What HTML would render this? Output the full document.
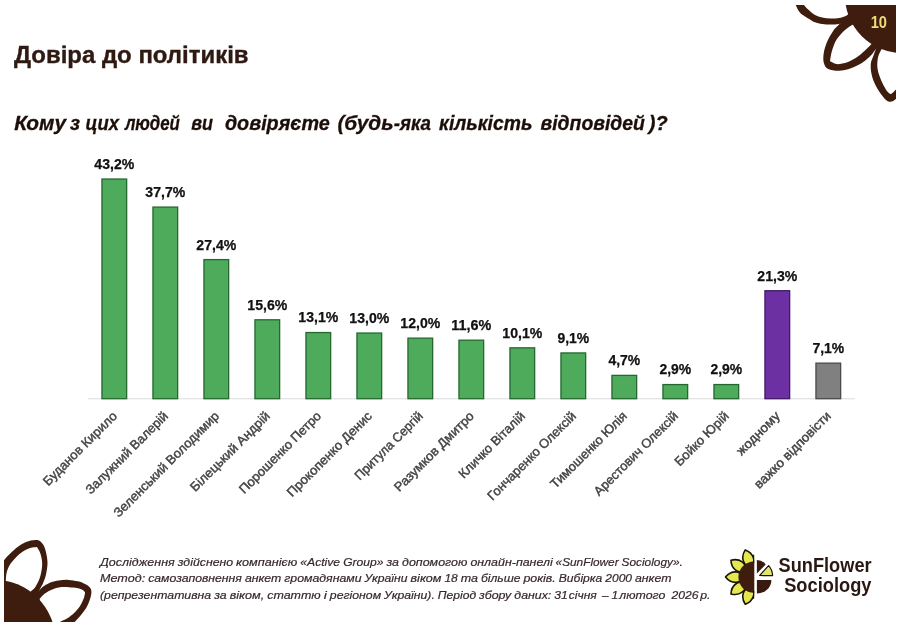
<!DOCTYPE html>
<html lang="uk"><head><meta charset="utf-8"><title>Довіра до політиків</title>
<style>html,body{margin:0;padding:0;background:#fff}body{width:900px;height:626px;overflow:hidden}svg{display:block}text{font-family:"Liberation Sans",sans-serif}</style></head><body>
<svg width="900" height="626" viewBox="0 0 900 626">
<rect width="900" height="626" fill="#ffffff"/>
<defs><clipPath id="slide"><rect x="4" y="5" width="892" height="617"/></clipPath></defs>
<g clip-path="url(#slide)" stroke="none">
<path d="M-4.0,569.0 C-2.7,567.6 1.2,563.2 3.8,560.4 C6.4,557.6 8.6,554.9 11.5,552.3 C14.4,549.7 17.9,546.5 21.1,544.6 C24.3,542.7 27.8,541.3 30.7,540.6 C33.6,539.9 36.3,539.6 38.4,540.3 C40.5,541.0 41.8,542.6 43.1,544.6 C44.4,546.6 45.3,549.3 46.0,552.3 C46.7,555.3 47.5,559.1 47.5,562.8 C47.5,566.5 46.7,571.0 46.0,574.4 C45.3,577.8 43.9,580.9 43.1,583.0 C42.3,585.1 42.4,584.5 41.2,586.8 C40.0,589.1 36.9,595.3 36.0,597.0 L-4.0,600.0 Z" fill="#3f1d0e"/>
<path d="M37.0,593.0 C37.6,592.3 39.3,590.2 40.5,589.0 C41.7,587.8 42.6,586.8 44.4,585.7 C46.2,584.6 48.7,583.2 51.1,582.3 C53.5,581.4 55.9,580.8 58.8,580.4 C61.7,580.0 65.2,579.8 68.4,579.9 C71.6,580.0 75.0,580.6 77.9,581.3 C80.8,582.0 83.6,583.2 85.6,584.2 C87.6,585.2 88.9,586.3 89.9,587.6 C90.9,588.9 91.4,589.9 91.4,591.9 C91.4,593.9 90.7,597.0 89.9,599.6 C89.1,602.2 87.9,604.8 86.6,607.2 C85.2,609.6 83.7,611.5 81.8,613.9 C79.9,616.3 76.7,619.7 75.1,621.6 C73.5,623.5 72.7,624.8 72.2,625.4 L50.0,630.0 L28.0,602.0 Z" fill="#3f1d0e"/>
<path d="M794.0,0.0 C794.4,1.0 795.1,3.9 796.2,6.1 C797.3,8.3 798.0,10.8 800.5,13.2 C803.0,15.5 808.7,18.7 811.1,20.2 C813.5,21.7 813.1,21.6 815.0,22.2 C816.9,22.8 819.6,23.6 822.2,24.0 C824.8,24.4 827.8,24.6 830.6,24.6 C833.4,24.6 836.4,24.6 839.0,24.0 C841.6,23.4 843.8,22.2 846.0,21.0 C848.2,19.8 851.0,17.7 852.0,17.0 L852.0,11.0 C851.3,11.6 849.2,13.5 848.0,14.4 C846.8,15.3 846.5,15.6 845.0,16.2 C843.5,16.8 841.4,17.6 839.0,18.0 C836.6,18.4 833.4,18.7 830.6,18.6 C827.8,18.5 824.8,18.0 822.2,17.4 C819.6,16.8 817.1,16.1 815.0,15.0 C812.9,13.8 811.1,12.1 809.3,10.5 C807.5,8.9 805.4,7.0 804.1,5.3 C802.8,3.5 801.9,0.9 801.5,0.0 Z" fill="#3f1d0e"/>
<path d="M850.0,16.0 C849.1,16.7 846.3,18.6 844.5,20.0 C842.7,21.4 840.9,22.7 839.0,24.6 C837.1,26.5 835.0,28.3 833.0,31.2 C831.0,34.1 828.6,38.2 827.0,42.0 C825.4,45.8 824.1,50.3 823.6,53.9 C823.1,57.5 823.2,61.0 824.0,63.5 C824.8,66.0 825.7,67.7 828.2,68.9 C830.7,70.1 835.2,70.8 839.0,70.7 C842.8,70.6 847.0,69.7 851.0,68.3 C855.0,66.9 859.5,64.5 862.9,62.3 C866.3,60.1 869.3,57.1 871.3,55.1 C873.3,53.1 873.4,52.1 874.9,50.3 C876.4,48.4 879.1,45.0 880.0,44.0 L870.0,30.0 L852.0,15.0 Z" fill="#3f1d0e"/>
<path d="M880.0,40.0 C879.2,41.7 876.6,47.3 875.5,50.0 C874.4,52.7 874.1,53.9 873.4,56.0 C872.6,58.1 871.4,60.1 871.0,62.6 C870.6,65.1 870.6,68.0 871.0,71.0 C871.4,74.0 872.3,77.6 873.4,80.6 C874.5,83.6 875.9,86.2 877.6,89.0 C879.3,91.8 881.8,95.3 883.6,97.4 C885.4,99.5 886.8,100.9 888.4,101.5 C890.0,102.1 892.0,101.3 893.2,100.9 C894.5,100.5 894.8,99.9 895.9,99.1 C897.0,98.3 899.3,96.5 900.0,96.0 L900.0,40.0 Z" fill="#3f1d0e"/>
<path d="M5.8,580.6 C6.0,579.2 5.9,575.2 6.7,572.4 C7.5,569.6 8.4,566.8 10.5,563.8 C12.6,560.8 16.1,556.8 19.2,554.2 C22.2,551.7 25.9,549.7 28.8,548.5 C31.8,547.3 35.5,547.2 36.9,547.0 L36.9,547.0 C37.5,548.0 39.4,550.5 40.3,553.3 C41.2,556.1 42.2,560.0 42.2,563.8 C42.2,567.6 41.4,572.5 40.3,576.3 C39.2,580.1 37.1,584.2 35.5,586.8 C33.9,589.3 31.5,590.8 30.7,591.6 L28.0,598.0 L5.0,590.0 Z" fill="#ffffff"/>
<path d="M39.6,599.1 C40.2,598.4 41.5,596.3 43.4,594.8 C45.3,593.3 48.1,591.3 51.1,590.0 C54.1,588.7 57.9,587.5 61.6,587.1 C65.3,586.7 69.7,587.2 73.1,587.6 C76.5,588.0 79.8,588.7 81.8,589.5 C83.8,590.3 84.5,591.9 85.1,592.4 L85.1,592.4 C84.9,593.4 84.6,596.3 83.7,598.6 C82.8,600.9 81.5,603.9 79.9,606.3 C78.3,608.7 76.2,611.0 74.1,613.0 C72.0,615.0 69.6,616.9 67.4,618.3 C65.2,619.7 62.6,620.6 60.7,621.6 C58.8,622.6 56.7,624.0 55.9,624.5 L50.0,628.0 L42.0,610.0 Z" fill="#ffffff"/>
<path d="M853.1,24.6 C851.8,25.5 847.8,27.5 845.0,30.0 C842.2,32.5 838.8,36.0 836.6,39.6 C834.4,43.2 832.9,47.9 831.8,51.5 C830.7,55.1 830.3,59.5 830.0,61.1 L830.0,61.1 C831.1,61.6 833.7,63.9 836.6,64.1 C839.5,64.3 843.8,63.6 847.4,62.3 C851.0,61.0 855.0,58.5 858.2,56.3 C861.4,54.1 864.3,51.1 866.5,49.1 C868.7,47.1 870.5,45.1 871.3,44.3 L875.0,38.0 L860.0,25.0 Z" fill="#ffffff"/>
<path d="M881.8,48.8 C881.2,50.1 879.0,53.7 878.2,56.6 C877.5,59.5 877.1,63.0 877.3,66.2 C877.5,69.4 878.3,72.6 879.4,75.8 C880.5,79.0 882.1,82.6 883.6,85.4 C885.1,88.2 887.1,91.2 888.4,92.6 C889.7,94.0 890.1,94.3 891.4,93.8 C892.6,93.3 894.5,91.1 895.9,89.6 C897.3,88.1 899.3,85.8 900.0,85.0 L900.0,45.0 Z" fill="#ffffff"/>
<circle cx="902.7" cy="-4.7" r="57.8" fill="#3f1d0e"/>
<circle cx="-6.1" cy="641.3" r="61.7" fill="#3f1d0e"/>
</g>
<text x="870.7" y="28.3" font-size="16" font-weight="bold" fill="#f2dc7a" textLength="16.3" lengthAdjust="spacingAndGlyphs">10</text>
<text x="14" y="63" font-size="23" font-weight="bold" fill="#2e1a12" stroke="#2e1a12" stroke-width="0.35" textLength="234.5" lengthAdjust="spacingAndGlyphs">Довіра до політиків</text>
<g font-size="19.5" font-weight="bold" font-style="italic" fill="#1c0e08" stroke="#1c0e08" stroke-width="0.3">
<text y="129.6"><tspan x="14.3" textLength="51.7" lengthAdjust="spacingAndGlyphs">Кому</tspan> <tspan x="69.9" textLength="10.0" lengthAdjust="spacingAndGlyphs">з</tspan> <tspan x="85.6" textLength="33.4" lengthAdjust="spacingAndGlyphs">цих</tspan> <tspan x="124.9" textLength="54.9" lengthAdjust="spacingAndGlyphs">людей</tspan> <tspan x="191.2" textLength="21.8" lengthAdjust="spacingAndGlyphs">ви</tspan> <tspan x="224.9" textLength="104.9" lengthAdjust="spacingAndGlyphs">довіряєте</tspan> <tspan x="337.4" textLength="56.1" lengthAdjust="spacingAndGlyphs">(будь</tspan><tspan x="393.7" textLength="37.3" lengthAdjust="spacingAndGlyphs">-яка</tspan> <tspan x="439.1" textLength="93.3" lengthAdjust="spacingAndGlyphs">кількість</tspan> <tspan x="540.5" textLength="104.4" lengthAdjust="spacingAndGlyphs">відповідей</tspan><tspan x="648.8" textLength="18.9" lengthAdjust="spacingAndGlyphs">)?</tspan></text>
</g>
<line x1="88" y1="398.8" x2="855" y2="398.8" stroke="#dcdcdc" stroke-width="1.1"/>
<rect x="101.95" y="179.03" width="24.7" height="219.67" fill="#4dab5b" stroke="#24682f" stroke-width="1.3"/>
<text x="114.3" y="168.9" font-size="13.8" font-weight="bold" fill="#111111" stroke="#111111" stroke-width="0.25" text-anchor="middle" textLength="39.9" lengthAdjust="spacingAndGlyphs">43,2%</text>
<text transform="translate(117.8,416.8) rotate(-45)" x="0" y="0" font-size="12.8" fill="#444444" stroke="#444444" stroke-width="0.45" text-anchor="end" textLength="98.5" lengthAdjust="spacingAndGlyphs">Буданов Кирило</text>
<rect x="152.95" y="207.08" width="24.7" height="191.62" fill="#4dab5b" stroke="#24682f" stroke-width="1.3"/>
<text x="165.3" y="196.9" font-size="13.8" font-weight="bold" fill="#111111" stroke="#111111" stroke-width="0.25" text-anchor="middle" textLength="39.9" lengthAdjust="spacingAndGlyphs">37,7%</text>
<text transform="translate(168.8,416.8) rotate(-45)" x="0" y="0" font-size="12.8" fill="#444444" stroke="#444444" stroke-width="0.45" text-anchor="end" textLength="110.4" lengthAdjust="spacingAndGlyphs">Залужний Валерій</text>
<rect x="203.95" y="259.61" width="24.7" height="139.09" fill="#4dab5b" stroke="#24682f" stroke-width="1.3"/>
<text x="216.3" y="249.5" font-size="13.8" font-weight="bold" fill="#111111" stroke="#111111" stroke-width="0.25" text-anchor="middle" textLength="39.9" lengthAdjust="spacingAndGlyphs">27,4%</text>
<text transform="translate(219.8,416.8) rotate(-45)" x="0" y="0" font-size="12.8" fill="#444444" stroke="#444444" stroke-width="0.45" text-anchor="end" textLength="142.9" lengthAdjust="spacingAndGlyphs">Зеленський Володимир</text>
<rect x="254.95" y="319.79" width="24.7" height="78.91" fill="#4dab5b" stroke="#24682f" stroke-width="1.3"/>
<text x="267.3" y="309.6" font-size="13.8" font-weight="bold" fill="#111111" stroke="#111111" stroke-width="0.25" text-anchor="middle" textLength="39.9" lengthAdjust="spacingAndGlyphs">15,6%</text>
<text transform="translate(270.8,416.8) rotate(-45)" x="0" y="0" font-size="12.8" fill="#444444" stroke="#444444" stroke-width="0.45" text-anchor="end" textLength="106.8" lengthAdjust="spacingAndGlyphs">Білецький Андрій</text>
<rect x="305.95" y="332.54" width="24.7" height="66.16" fill="#4dab5b" stroke="#24682f" stroke-width="1.3"/>
<text x="318.3" y="322.4" font-size="13.8" font-weight="bold" fill="#111111" stroke="#111111" stroke-width="0.25" text-anchor="middle" textLength="39.9" lengthAdjust="spacingAndGlyphs">13,1%</text>
<text transform="translate(321.8,416.8) rotate(-45)" x="0" y="0" font-size="12.8" fill="#444444" stroke="#444444" stroke-width="0.45" text-anchor="end" textLength="109.6" lengthAdjust="spacingAndGlyphs">Порошенко Петро</text>
<rect x="356.95" y="333.05" width="24.7" height="65.65" fill="#4dab5b" stroke="#24682f" stroke-width="1.3"/>
<text x="369.3" y="322.9" font-size="13.8" font-weight="bold" fill="#111111" stroke="#111111" stroke-width="0.25" text-anchor="middle" textLength="39.9" lengthAdjust="spacingAndGlyphs">13,0%</text>
<text transform="translate(372.8,416.8) rotate(-45)" x="0" y="0" font-size="12.8" fill="#444444" stroke="#444444" stroke-width="0.45" text-anchor="end" textLength="114.2" lengthAdjust="spacingAndGlyphs">Прокопенко Денис</text>
<rect x="407.95" y="338.15" width="24.7" height="60.55" fill="#4dab5b" stroke="#24682f" stroke-width="1.3"/>
<text x="420.3" y="328.0" font-size="13.8" font-weight="bold" fill="#111111" stroke="#111111" stroke-width="0.25" text-anchor="middle" textLength="39.9" lengthAdjust="spacingAndGlyphs">12,0%</text>
<text transform="translate(423.8,416.8) rotate(-45)" x="0" y="0" font-size="12.8" fill="#444444" stroke="#444444" stroke-width="0.45" text-anchor="end" textLength="90.6" lengthAdjust="spacingAndGlyphs">Притула Сергій</text>
<rect x="458.95" y="340.19" width="24.7" height="58.51" fill="#4dab5b" stroke="#24682f" stroke-width="1.3"/>
<text x="471.3" y="330.0" font-size="13.8" font-weight="bold" fill="#111111" stroke="#111111" stroke-width="0.25" text-anchor="middle" textLength="39.9" lengthAdjust="spacingAndGlyphs">11,6%</text>
<text transform="translate(474.8,416.8) rotate(-45)" x="0" y="0" font-size="12.8" fill="#444444" stroke="#444444" stroke-width="0.45" text-anchor="end" textLength="106.8" lengthAdjust="spacingAndGlyphs">Разумков Дмитро</text>
<rect x="509.95" y="347.84" width="24.7" height="50.86" fill="#4dab5b" stroke="#24682f" stroke-width="1.3"/>
<text x="522.3" y="337.7" font-size="13.8" font-weight="bold" fill="#111111" stroke="#111111" stroke-width="0.25" text-anchor="middle" textLength="39.9" lengthAdjust="spacingAndGlyphs">10,1%</text>
<text transform="translate(525.8,416.8) rotate(-45)" x="0" y="0" font-size="12.8" fill="#444444" stroke="#444444" stroke-width="0.45" text-anchor="end" textLength="87.8" lengthAdjust="spacingAndGlyphs">Кличко Віталій</text>
<rect x="560.95" y="352.94" width="24.7" height="45.76" fill="#4dab5b" stroke="#24682f" stroke-width="1.3"/>
<text x="573.3" y="342.8" font-size="13.8" font-weight="bold" fill="#111111" stroke="#111111" stroke-width="0.25" text-anchor="middle" textLength="31.8" lengthAdjust="spacingAndGlyphs">9,1%</text>
<text transform="translate(576.8,416.8) rotate(-45)" x="0" y="0" font-size="12.8" fill="#444444" stroke="#444444" stroke-width="0.45" text-anchor="end" textLength="119.1" lengthAdjust="spacingAndGlyphs">Гончаренко Олексій</text>
<rect x="611.95" y="375.38" width="24.7" height="23.32" fill="#4dab5b" stroke="#24682f" stroke-width="1.3"/>
<text x="624.3" y="365.2" font-size="13.8" font-weight="bold" fill="#111111" stroke="#111111" stroke-width="0.25" text-anchor="middle" textLength="31.8" lengthAdjust="spacingAndGlyphs">4,7%</text>
<text transform="translate(627.8,416.8) rotate(-45)" x="0" y="0" font-size="12.8" fill="#444444" stroke="#444444" stroke-width="0.45" text-anchor="end" textLength="102.2" lengthAdjust="spacingAndGlyphs">Тимошенко Юлія</text>
<rect x="662.95" y="384.56" width="24.7" height="14.14" fill="#4dab5b" stroke="#24682f" stroke-width="1.3"/>
<text x="675.3" y="374.4" font-size="13.8" font-weight="bold" fill="#111111" stroke="#111111" stroke-width="0.25" text-anchor="middle" textLength="31.8" lengthAdjust="spacingAndGlyphs">2,9%</text>
<text transform="translate(678.8,416.8) rotate(-45)" x="0" y="0" font-size="12.8" fill="#444444" stroke="#444444" stroke-width="0.45" text-anchor="end" textLength="112.7" lengthAdjust="spacingAndGlyphs">Арестович Олексій</text>
<rect x="713.95" y="384.56" width="24.7" height="14.14" fill="#4dab5b" stroke="#24682f" stroke-width="1.3"/>
<text x="726.3" y="374.4" font-size="13.8" font-weight="bold" fill="#111111" stroke="#111111" stroke-width="0.25" text-anchor="middle" textLength="31.8" lengthAdjust="spacingAndGlyphs">2,9%</text>
<text transform="translate(729.8,416.8) rotate(-45)" x="0" y="0" font-size="12.8" fill="#444444" stroke="#444444" stroke-width="0.45" text-anchor="end" textLength="70.8" lengthAdjust="spacingAndGlyphs">Бойко Юрій</text>
<rect x="764.95" y="290.72" width="24.7" height="107.98" fill="#6c30a2" stroke="#3f1a66" stroke-width="1.3"/>
<text x="777.3" y="280.6" font-size="13.8" font-weight="bold" fill="#111111" stroke="#111111" stroke-width="0.25" text-anchor="middle" textLength="39.9" lengthAdjust="spacingAndGlyphs">21,3%</text>
<text transform="translate(780.8,416.8) rotate(-45)" x="0" y="0" font-size="12.8" fill="#444444" stroke="#444444" stroke-width="0.45" text-anchor="end" textLength="55.6" lengthAdjust="spacingAndGlyphs">жодному</text>
<rect x="815.95" y="363.14" width="24.7" height="35.56" fill="#808080" stroke="#4a4a4a" stroke-width="1.3"/>
<text x="828.3" y="353.0" font-size="13.8" font-weight="bold" fill="#111111" stroke="#111111" stroke-width="0.25" text-anchor="middle" textLength="31.8" lengthAdjust="spacingAndGlyphs">7,1%</text>
<text transform="translate(831.8,416.8) rotate(-45)" x="0" y="0" font-size="12.8" fill="#444444" stroke="#444444" stroke-width="0.45" text-anchor="end" textLength="102.5" lengthAdjust="spacingAndGlyphs">важко відповісти</text>
<g font-size="11.8" font-style="italic" fill="#38282a" stroke="#38282a" stroke-width="0.2">
<text y="566.0"><tspan x="100.0" textLength="74.7" lengthAdjust="spacingAndGlyphs">Дослідження</tspan> <tspan x="177.8" textLength="55.3" lengthAdjust="spacingAndGlyphs">здійснено</tspan> <tspan x="236.1" textLength="61.2" lengthAdjust="spacingAndGlyphs">компанією</tspan> <tspan x="300.3" textLength="39.8" lengthAdjust="spacingAndGlyphs">«Active</tspan> <tspan x="343.2" textLength="40.3" lengthAdjust="spacingAndGlyphs">Group»</tspan> <tspan x="386.5" textLength="12.5" lengthAdjust="spacingAndGlyphs">за</tspan> <tspan x="402.0" textLength="65.4" lengthAdjust="spacingAndGlyphs">допомогою</tspan> <tspan x="470.4" textLength="82.3" lengthAdjust="spacingAndGlyphs">онлайн-панелі</tspan> <tspan x="555.6" textLength="63.0" lengthAdjust="spacingAndGlyphs">«SunFlower</tspan> <tspan x="621.6" textLength="61.2" lengthAdjust="spacingAndGlyphs">Sociology».</tspan></text>
<text y="582.3"><tspan x="100.0" textLength="45.2" lengthAdjust="spacingAndGlyphs">Метод:</tspan> <tspan x="148.2" textLength="93.7" lengthAdjust="spacingAndGlyphs">самозаповнення</tspan> <tspan x="244.9" textLength="36.4" lengthAdjust="spacingAndGlyphs">анкет</tspan> <tspan x="284.3" textLength="77.3" lengthAdjust="spacingAndGlyphs">громадянами</tspan> <tspan x="364.5" textLength="43.0" lengthAdjust="spacingAndGlyphs">України</tspan> <tspan x="410.5" textLength="31.0" lengthAdjust="spacingAndGlyphs">віком</tspan> <tspan x="444.4" textLength="13.4" lengthAdjust="spacingAndGlyphs">18</tspan> <tspan x="460.8" textLength="17.2" lengthAdjust="spacingAndGlyphs">та</tspan> <tspan x="481.0" textLength="39.5" lengthAdjust="spacingAndGlyphs">більше</tspan> <tspan x="523.4" textLength="32.3" lengthAdjust="spacingAndGlyphs">років.</tspan> <tspan x="558.8" textLength="43.5" lengthAdjust="spacingAndGlyphs">Вибірка</tspan> <tspan x="605.3" textLength="26.7" lengthAdjust="spacingAndGlyphs">2000</tspan> <tspan x="635.0" textLength="36.4" lengthAdjust="spacingAndGlyphs">анкет</tspan></text>
<text y="598.5"><tspan x="100.0" textLength="111.2" lengthAdjust="spacingAndGlyphs">(репрезентативна</tspan> <tspan x="214.2" textLength="12.5" lengthAdjust="spacingAndGlyphs">за</tspan> <tspan x="229.7" textLength="34.5" lengthAdjust="spacingAndGlyphs">віком,</tspan> <tspan x="267.2" textLength="53.5" lengthAdjust="spacingAndGlyphs">статтю</tspan> <tspan x="323.7" textLength="3.1" lengthAdjust="spacingAndGlyphs">і</tspan> <tspan x="329.8" textLength="51.3" lengthAdjust="spacingAndGlyphs">регіоном</tspan> <tspan x="384.1" textLength="50.7" lengthAdjust="spacingAndGlyphs">України).</tspan> <tspan x="437.8" textLength="38.3" lengthAdjust="spacingAndGlyphs">Період</tspan> <tspan x="479.1" textLength="32.2" lengthAdjust="spacingAndGlyphs">збору</tspan> <tspan x="514.3" textLength="37.0" lengthAdjust="spacingAndGlyphs">даних:</tspan> <tspan x="554.3" textLength="13.5" lengthAdjust="spacingAndGlyphs">31</tspan> <tspan x="568.7" textLength="28.1" lengthAdjust="spacingAndGlyphs">січня</tspan> <tspan x="601.9" textLength="6.6" lengthAdjust="spacingAndGlyphs">–</tspan> <tspan x="611.5" textLength="6.7" lengthAdjust="spacingAndGlyphs">1</tspan> <tspan x="619.3" textLength="46.0" lengthAdjust="spacingAndGlyphs">лютого</tspan> <tspan x="671.5" textLength="27.0" lengthAdjust="spacingAndGlyphs">2026</tspan> <tspan x="700.2" textLength="10.2" lengthAdjust="spacingAndGlyphs">р.</tspan></text>
</g>
<defs><clipPath id="lh"><rect x="715" y="540" width="39.3" height="80"/></clipPath><clipPath id="rh"><rect x="756.9" y="555" width="30" height="45"/></clipPath></defs>
<g clip-path="url(#lh)">
<path transform="translate(754.1,577.1) rotate(-108)" d="M11.5,0 C13,-6.8 23,-7.2 28.6,0 C23,7.2 13,6.8 11.5,0 Z" fill="#e5e74e" stroke="#1a1408" stroke-width="1.6" stroke-linejoin="round"/>
<path transform="translate(754.1,577.1) rotate(-144)" d="M11.5,0 C13,-6.8 23,-7.2 28.6,0 C23,7.2 13,6.8 11.5,0 Z" fill="#e5e74e" stroke="#1a1408" stroke-width="1.6" stroke-linejoin="round"/>
<path transform="translate(754.1,577.1) rotate(-180)" d="M11.5,0 C13,-6.8 23,-7.2 28.6,0 C23,7.2 13,6.8 11.5,0 Z" fill="#e5e74e" stroke="#1a1408" stroke-width="1.6" stroke-linejoin="round"/>
<path transform="translate(754.1,577.1) rotate(-216)" d="M11.5,0 C13,-6.8 23,-7.2 28.6,0 C23,7.2 13,6.8 11.5,0 Z" fill="#e5e74e" stroke="#1a1408" stroke-width="1.6" stroke-linejoin="round"/>
<path transform="translate(754.1,577.1) rotate(-252)" d="M11.5,0 C13,-6.8 23,-7.2 28.6,0 C23,7.2 13,6.8 11.5,0 Z" fill="#e5e74e" stroke="#1a1408" stroke-width="1.6" stroke-linejoin="round"/>
<circle cx="754.1" cy="577.1" r="15.7" fill="#3f1d0e"/>
<line x1="753.8" y1="554.8" x2="753.8" y2="562.5" stroke="#1a1408" stroke-width="1.6"/>
<line x1="753.8" y1="591" x2="753.8" y2="598.8" stroke="#1a1408" stroke-width="1.6"/>
</g>
<path d="M756.9,560.1 Q762.6,560.2 765.7,564.5 L756.9,573.4 Z" fill="#3a1a10"/>
<path d="M759.7,575.5 L768.6,565.6 Q772.4,569.6 772.6,575.7 Z" fill="#e2e668" stroke="#1a1408" stroke-width="1.2" stroke-linejoin="round"/>
<path d="M756.9,579.9 L771.4,579.9 A14.5,13.6 0 0 1 756.9,593.5 Z" fill="#3a1a10"/>
<text x="778.6" y="571.7" font-size="19.7" font-weight="bold" fill="#2a1712" textLength="93" lengthAdjust="spacingAndGlyphs">SunFlower</text>
<text x="784.2" y="592.2" font-size="19.7" font-weight="bold" fill="#2a1712" textLength="87.3" lengthAdjust="spacingAndGlyphs">Sociology</text>
</svg></body></html>
